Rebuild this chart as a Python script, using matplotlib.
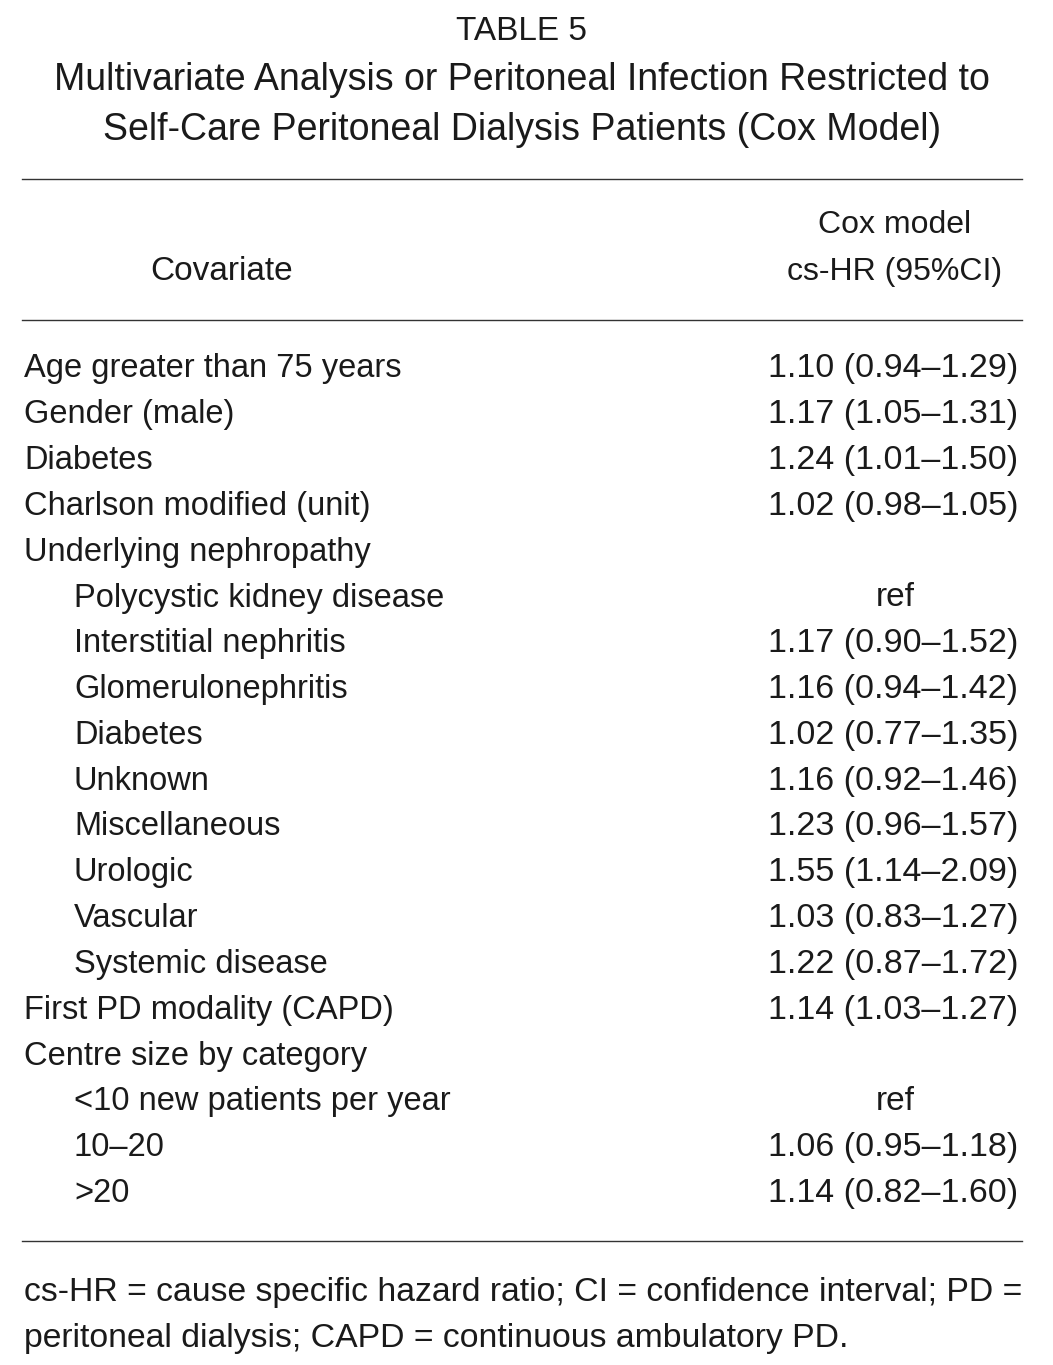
import matplotlib
matplotlib.use("Agg")
import matplotlib.pyplot as plt

plt.rcParams['font.family'] = ['Liberation Sans', 'DejaVu Sans']

title = ["TABLE 5",
         "Multivariate Analysis or Peritoneal Infection Restricted to",
         "Self-Care Peritoneal Dialysis Patients (Cox Model)"]
col_head = ["Cox model", "cs-HR (95%CI)"]
covariates = ["Age greater than 75 years", "Gender (male)", "Diabetes",
              "Charlson modified (unit)", "Underlying nephropathy",
              "Polycystic kidney disease", "Interstitial nephritis",
              "Glomerulonephritis", "Diabetes", "Unknown", "Miscellaneous",
              "Urologic", "Vascular", "Systemic disease",
              "First PD modality (CAPD)", "Centre size by category",
              "<10 new patients per year", "10\u201320", ">20"]
indent = [0, 0, 0, 0, 0, 1, 1, 1, 1, 1, 1, 1, 1, 1, 0, 0, 1, 1, 1]
hr = ["1.10 (0.94\u20131.29)", "1.17 (1.05\u20131.31)", "1.24 (1.01\u20131.50)",
      "1.02 (0.98\u20131.05)", "", "ref", "1.17 (0.90\u20131.52)",
      "1.16 (0.94\u20131.42)", "1.02 (0.77\u20131.35)", "1.16 (0.92\u20131.46)",
      "1.23 (0.96\u20131.57)", "1.55 (1.14\u20132.09)", "1.03 (0.83\u20131.27)",
      "1.22 (0.87\u20131.72)", "1.14 (1.03\u20131.27)", "", "ref",
      "1.06 (0.95\u20131.18)", "1.14 (0.82\u20131.60)"]
footnote = ["cs-HR = cause specific hazard ratio; CI = confidence interval; PD =",
            "peritoneal dialysis; CAPD = continuous ambulatory PD."]

W, H = 1053, 1365
fig = plt.figure(figsize=(W / 100, H / 100), dpi=100)
fig.patch.set_facecolor('white')

def tx(x, y, s, ha='left', size=24):
    # +2 px: matplotlib's center sits a bit high for this font
    fig.text(x / W, 1 - (y + 2) / H, s, ha=ha, va='center', fontsize=size, color='#1a1a1a')

def rule(y):
    fig.add_artist(plt.Line2D([22 / W, 1022 / W], [1 - y / H] * 2, color='#333333', lw=1))

tx(522, 30, title[0], ha='center', size=24)
tx(522, 78, title[1], ha='center', size=27)
tx(522, 128, title[2], ha='center', size=27)
rule(179)
tx(895, 223, col_head[0], ha='center', size=23)
tx(895, 270, col_head[1], ha='center', size=23)
tx(222, 270, "Covariate", ha='center')
rule(320)

y0, dy = 367, 45.8
for i, (c, ind, v) in enumerate(zip(covariates, indent, hr)):
    y = y0 + i * dy
    tx(24 + 50 * ind, y, c, size=23.5)
    if v == "ref":
        tx(895, y, v, ha='center')
    elif v:
        tx(1018, y, v, ha='right', size=24.5)

rule(1241)
tx(24, 1290, footnote[0], size=24.3)
tx(24, 1337, footnote[1], size=24.3)

fig.savefig("out.png", dpi=100)
